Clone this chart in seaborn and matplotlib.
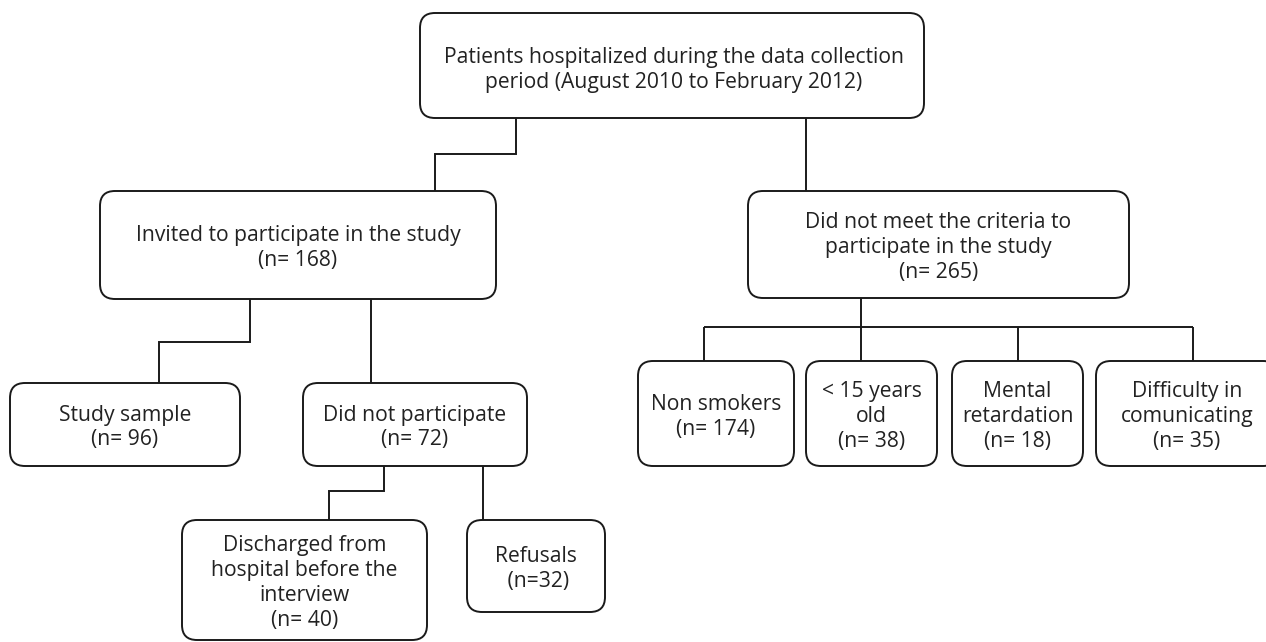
import matplotlib
matplotlib.use("Agg")
import matplotlib.pyplot as plt
from matplotlib.patches import FancyBboxPatch
import seaborn as sns

# ---- data ----
node_ids = ["root", "invited", "notmeet", "sample", "notpart", "discharged",
            "refusals", "nonsmokers", "under15", "mental", "difficulty"]
node_labels = [
    "Patients hospitalized during the data collection\nperiod (August 2010 to February 2012)",
    "Invited to participate in the study",
    "Did not meet the criteria to\nparticipate in the study",
    "Study sample",
    "Did not participate",
    "Discharged from\nhospital before the\ninterview",
    "Refusals",
    "Non smokers",
    "< 15 years\nold",
    "Mental\nretardation",
    "Difficulty in\ncomunicating",
]
node_counts = [None, 168, 265, 96, 72, 40, 32, 174, 38, 18, 35]
count_fmt = ["", "(n= {})", "(n= {})", "(n= {})", "(n= {})", "(n= {})",
             " (n={})", "(n= {})", "(n= {})", "(n= {})", "(n= {})"]

# ---- layout (pixel coords: x0, y0, x1, y1) ----
boxes = {
    "root": (420, 13, 924, 118),
    "invited": (100, 191, 496, 299),
    "notmeet": (748, 191, 1129, 298),
    "sample": (10, 383, 240, 466),
    "notpart": (303, 383, 527, 466),
    "discharged": (182, 520, 427, 640),
    "refusals": (467, 520, 605, 612),
    "nonsmokers": (638, 361, 794, 466),
    "under15": (806, 361, 937, 466),
    "mental": (952, 361, 1083, 466),
    "difficulty": (1096, 361, 1278, 466),
}
text_pos = {"root": (674, 70)}
text_shift = 3

connectors = [
    [(516, 118), (516, 154), (435, 154), (435, 191)],
    [(806, 118), (806, 191)],
    [(250, 299), (250, 342), (159, 342), (159, 383)],
    [(371, 299), (371, 383)],
    [(384, 466), (384, 491), (329, 491), (329, 520)],
    [(483, 466), (483, 520)],
    [(861, 298), (861, 327)],
    [(704, 327), (1193, 327)],
    [(704, 327), (704, 361)],
    [(861, 327), (861, 361)],
    [(1018, 327), (1018, 361)],
    [(1193, 327), (1193, 361)],
]

sns.set_theme(style="white")
plt.rcParams["font.family"] = ["Open Sans", "DejaVu Sans"]

fig = plt.figure(figsize=(12.66, 6.42), dpi=100)
ax = fig.add_axes([0, 0, 1, 1])

ink = "#1a1a1a"
lw = 1.4

for seg in connectors:
    xs = [p[0] for p in seg]
    ys = [p[1] for p in seg]
    ax.plot(xs, ys, color=ink, lw=lw, solid_joinstyle="miter",
            solid_capstyle="butt", zorder=2)

for nid, lab, cnt, fmt in zip(node_ids, node_labels, node_counts, count_fmt):
    x0, y0, x1, y1 = boxes[nid]
    patch = FancyBboxPatch((x0, y0), x1 - x0, y1 - y0,
                           boxstyle="round,pad=0,rounding_size=15",
                           fc="white", ec=ink, lw=lw, zorder=3)
    ax.add_patch(patch)
    txt = lab if cnt is None else lab + "\n" + fmt.format(cnt)
    if nid in text_pos:
        tx, ty = text_pos[nid]
    else:
        tx, ty = (x0 + x1) / 2, (y0 + y1) / 2 + text_shift
    ax.text(tx, ty, txt, ha="center", va="center", fontsize=15.2,
            color="#222222", linespacing=1.25, zorder=4)

ax.set_xlim(0, 1266)
ax.set_ylim(642, 0)
ax.axis("off")

fig.savefig("out.png", dpi=100, facecolor="white")
